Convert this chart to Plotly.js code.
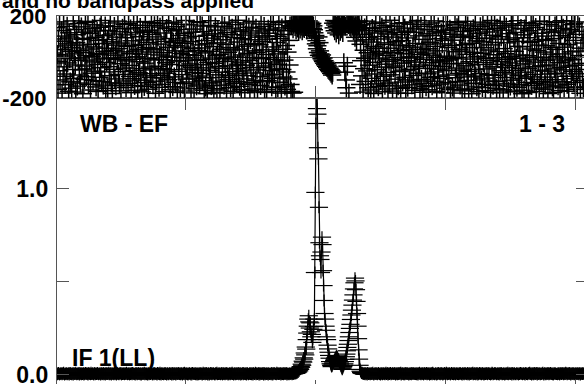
<!DOCTYPE html>
<html><head><meta charset="utf-8">
<script src="https://cdn.plot.ly/plotly-3.0.1.min.js"></script>
<style>
html,body{margin:0;padding:0;width:584px;height:384px;overflow:hidden;background:#fff}
#plot{position:absolute;left:0;top:-20px;width:600px;height:420px}
</style></head><body><div id="plot"></div>
<script>
// ---- text ----
const titleText = 'and no bandpass applied';
const baselineLabel = 'WB - EF';
const rangeLabel = '1 - 3';
const ifLabel = 'IF 1(LL)';
// ---- ticks ----
const channelTickVals = [256, 512, 768, 1024];
const ampTickVals = [0, 0.5, 1.0];
const ampTickText = ['0.0', '', '1.0'];
const phaseTickVals = [-200, 0, 200];
const phaseTickText = ['-200', '', '200'];

// ---- phase (degrees), channel 1..1040 ----
const phaseNoiseLeft = [
143,-67,12,-158,88,-21,171,-112,54,-3,129,-176,36,-94,161,-48,77,-135,5,102,
-83,150,-29,64,-167,118,-8,-121,93,27,-152,45,-61,176,-104,15,134,-39,-171,70,
109,-142,58,-17,163,-88,31,-127,-5,147,-63,86,-179,22,121,-110,-44,168,7,-96,
-58,91,174,-133,39,-15,115,-161,62,-79,3,138,-115,49,-24,157,-69,96,-146,18,
127,-36,-168,81,11,-99,145,-52,178,-119,66,-9,-137,104,28,-73,152,-164,43,-26,
85,-153,19,130,-47,-91,166,-6,-126,74,-178,112,33,-60,149,-107,9,-140,97,58,
-12,175,-85,41,-131,123,-33,-165,68,-2,140,-71,-117,25,159,-54,94,-149,-19,108,
52,-128,163,-41,16,-95,137,-174,79,-11,-106,57,171,-66,-139,29,118,-84,1,155,
-162,37,-77,99,-23,144,-113,61,-170,14,126,-57,83,-144,-30,173,-92,46,-125,120,
-7,-157,71,131,-49,-100,24,167,-81,110,-136,40,-14,153,-63,-177,87,-118,35,162,
98,-45,-148,10,146,-89,63,-13,-134,177,-56,21,117,-102,-169,76,-28,139,-79,4,
-111,165,47,-62,-160,90,-37,128,-1,-145,72,170,-97,30,-124,55,148,-18,-173,82,
134,-70,-20,105,-151,17,160,-86,48,-130,-4,114,-166,67,-42,178,-108,26,-59,93,
11,-122,157,-34,75,-175,121,-50,-103,42,136,-155,8,-76,101,-16,-141,172,-64,32,
-93,59,-132,168,-11,-80,44,151,-116,-38,124,-163,80,20,-147,-53,106,-179,65,-27,
154,-101,28,-65,177,-140,92,-10,-126,51,-172,113,-31,147,-87,6,-154,69,131,-46,
-74,13,-161,100,38,-118,164,-55,84,-6,-137,150,-22,-99,62,-176,119,-43,23,-110,
170,-90,46,-150,109,-14,141,-72,-167,34,95,-128,0,158,-57,-120,73,-35,179,-82,
39,-143,125,-25,-159,89,-68,10,132,-107,53,-174,107,-40,166,-91,18,-133,61,145,
-17,-164,84,-51,117,-125,-2,174,-78,30,-156,66,-114,141,22,-63,-170,97,-31,127,
60,-96,-139,161,-8,76,-121,35,-52,149,-173,103,-44,12,-160,87,-115,136,-3,-88,
116,-29,173,-66,-146,49,-104,158,27,-84,-12,130,-169,71,-36,101,-150,15,167,-58,
-123,90,-20,-176,142,-61,38,-98,110,-15,-142,175,56,-73,-158,24,128,-107,81,-39,
152,-134];
const phaseLeftBlob = [
-168,152,171,-176,138,160,-172,176,
148,165,132,158,177,141,169,124,155,173,136,162,150,178,128,166,145,171,139,157,
174,149,163,131,168,154,142,176,160,135,170,147,158,126,164,140,152,133];
const phaseSlope = [
118,92,105,64,80,40,55,22,98,8,70,30,
15,4,-8,10,-15,-22,-5,-30,-18,-38,-26,-45,-33,-52,-40,-60,-48,-66,-55,-72,-62,-80,-68,-88,-75];
const phaseBlobOne = [
165,142,178,128,156,171,117,149,162,134,175,108,152,168,125,144,173,138,159,119,166];
const phaseColumn = [
-28,160,-74,151,-112,-150,168,-45,172,158,-176,166,149,177,139,162];
const phaseBlobTwo = [
171,150,163,128,157,145,96,152,160,78,148,168,133,155,176,141];
const phaseNoiseRight = [
-134,62,-18,157,-92,110,-171,33,-57,142,-7,-119,84,175,-68,21,-150,96,-40,128,
5,-161,73,-104,139,-26,51,-178,117,-83,14,164,-131,42,-62,100,-145,27,-9,170,
-116,88,-49,145,-170,19,-94,125,61,-138,-35,154,-75,8,112,-156,69,-21,-127,179,
43,-87,132,-13,-166,97,-52,22,150,-108,-44,76,-176,119,-3,-141,58,163,-71,31,
-153,109,-30,80,-122,167,16,-64,141,-99,-177,55,-18,126,-148,93,-5,-112,37,160,
-60,1,-136,171,48,-90,120,-25,-163,66,-47,137,-117,24,178,-79,103,-39,-155,12,
149,-109,36,-172,86,-11,-129,158,63,-56,-145,19,113,-82,40,-160,133,-28,72,-99,
166,-41,-140,104,9,-73,176,-118,52,-15,123,-167,30,-95,147,-59,-1,-132,89,-24,
118,-174,64,-46,153,-105,-19,81,-152,129,-66,4,172,-125,47,-88,-14,136,-159,98,
-33,57,-147,111,-8,-176,82,160,-101,26,-54,143,-120,-2,168,-80,38,-137,107,-64,
29,-165,95,-31,124,-87,-156,60,174,-43,13,-114,152,-70,-158,101,46,-23,130,-97,
-179,67,-10,138,-128,23,-61,161,-93,79,-146,3,115,-37,-169,90,-81,148,18,-112,
74,-149,170,-27,45,-103,135,-164,-6,92,-58,156,-133,34,-86,122,-16,-172,59,178,
-48,106,-138,11,-89,165,-120,71,-36,-154,140,-4,87,-117,26,-175,153,-67,99,-22,
131,-76,-160,41,173,-100,17,-51,146,-131,69,-12,-166,114,-29,85,-142,2,162,-83,
-42,155,-113,93,-170,28,-65,120,-7,-148,76,177,-91,52,-135,10,-56,139,-104,-179,
50,-20,108,-162,137,-74,-34,167,-124,6,94,-55,-173,128,-14,71,-97,154,-139,39,
-85,162,-3,-128,77,-47,144,-168,32,-109,116,-25,58,-151,175,-64,-1,-119,85,-43,
102,-157,24,172,-69,-136,55,-16,134,-98,-178,81,-39,159,-126,14,-83,121,46,-146,
-10,-173,90,-58,151,-111,37,169,-79,3,-141,127,66,-28,-164,104,-50,177,-121,15,
140,-63,-150,48,-19,117,-94,176,-133,60,-5,-167,96,-44,133,25,-106,158,-71,-13,
81,-124,163,-40,-158,110,-82,29,-146,171,-61,7,147,-95,-177,43,-31,125,-115,68,
-149,94];

// ---- amplitude, channel 1..1040 ----
const ampNoiseLeft = [
0.006,0.009,0.004,0.007,0.011,0.005,0.003,0.008,0.006,0.010,0.007,0.004,0.009,0.005,0.012,0.006,0.003,0.008,0.007,0.005,
0.010,0.004,0.007,0.006,0.009,0.002,0.008,0.011,0.005,0.007,0.004,0.009,0.006,0.003,0.010,0.008,0.005,0.007,0.012,0.006,
0.004,0.008,0.005,0.009,0.007,0.003,0.011,0.006,0.008,0.004,0.010,0.005,0.007,0.009,0.002,0.006,0.008,0.011,0.005,0.007,
0.009,0.006,0.003,0.010,0.005,0.008,0.007,0.004,0.012,0.006,0.005,0.009,0.007,0.003,0.008,0.010,0.004,0.006,0.009,0.005,
0.007,0.011,0.005,0.004,0.008,0.006,0.010,0.003,0.007,0.009,0.005,0.008,0.004,0.011,0.006,0.007,0.003,0.009,0.005,0.010,
0.005,0.008,0.006,0.012,0.004,0.007,0.009,0.005,0.003,0.010,0.006,0.008,0.007,0.004,0.011,0.005,0.009,0.006,0.002,0.008,
0.010,0.005,0.007,0.004,0.009,0.006,0.008,0.011,0.003,0.007,0.005,0.010,0.006,0.008,0.004,0.009,0.007,0.005,0.012,0.006,
0.004,0.009,0.006,0.008,0.003,0.010,0.005,0.007,0.009,0.004,0.011,0.006,0.008,0.005,0.007,0.003,0.010,0.006,0.009,0.004,
0.008,0.005,0.011,0.006,0.007,0.004,0.009,0.003,0.006,0.010,0.005,0.008,0.007,0.012,0.004,0.006,0.009,0.005,0.008,0.003,
0.007,0.010,0.004,0.006,0.009,0.005,0.008,0.011,0.006,0.003,0.007,0.009,0.004,0.010,0.005,0.008,0.006,0.007,0.003,0.011,
0.005,0.007,0.009,0.004,0.012,0.006,0.003,0.008,0.010,0.005,0.007,0.004,0.009,0.006,0.011,0.005,0.008,0.003,0.007,0.009,
0.006,0.004,0.008,0.010,0.005,0.007,0.009,0.003,0.006,0.011,0.004,0.008,0.005,0.010,0.007,0.002,0.009,0.006,0.008,0.005,
0.011,0.006,0.005,0.009,0.004,0.008,0.007,0.010,0.003,0.006,0.009,0.005,0.012,0.004,0.007,0.008,0.006,0.010,0.005,0.003,
0.008,0.005,0.010,0.006,0.007,0.003,0.009,0.004,0.011,0.006,0.008,0.005,0.007,0.009,0.004,0.010,0.006,0.003,0.008,0.007,
0.004,0.009,0.007,0.005,0.010,0.006,0.008,0.003,0.007,0.012,0.005,0.006,0.009,0.004,0.008,0.011,0.005,0.007,0.003,0.010,
0.007,0.003,0.006,0.011,0.005,0.009,0.004,0.008,0.006,0.010,0.007,0.005,0.003,0.009,0.006,0.008,0.012,0.004,0.007,0.005,
0.009,0.006,0.008,0.004,0.007,0.010,0.005,0.003,0.011,0.006,0.008,0.007,0.004,0.009,0.005,0.010,0.006,0.008,0.003,0.007,
0.005,0.010,0.004,0.007,0.009,0.006,0.012,0.005,0.008,0.003,0.006,0.009,0.007,0.004,0.010,0.005,0.008,0.006,0.011,0.004,
0.008,0.006,0.009,0.003,0.007,0.005,0.010,0.008,0.004,0.011,0.006,0.007,0.005,0.009,0.003,0.008,0.010,0.006,0.004,0.007,
0.006,0.011,0.005,0.008,0.004,0.009,0.007,0.003,0.010,0.006,0.005,0.008,0.012,0.004,0.007,0.009,0.005,0.006,0.010,0.003,
0.009,0.004,0.007,0.010,0.006,0.005,0.008,0.011,0.003,0.007,0.009,0.004,0.006,0.010,0.005,0.008,0.007,0.003,0.009,0.006,
0.005,0.008,0.006,0.004,0.011,0.007,0.003,0.009,0.006,0.010,0.008,0.005,0.007,0.004,0.012,0.006,0.009,0.005,0.008,0.007,
0.007,0.010,0.003,0.006,0.009,0.005,0.008,0.004,0.011,0.007,0.006,0.009,0.005,0.010,0.003,0.008,0.006,0.007,0.004,0.009,
0.005,0.008,0.006,0.010,0.004,0.007,0.009,0.006,0.008,0.011];
const ampLines = [
0.008,0.011,0.009,0.014,0.012,0.018,0.016,0.025,0.022,0.034,
0.030,0.045,0.041,0.058,0.052,0.074,0.069,0.092,0.085,0.118,
0.108,0.150,0.139,0.190,0.225,0.262,0.300,0.318,0.285,0.252,
0.280,0.232,0.205,0.218,0.175,0.190,0.245,0.260,0.300,0.550,
0.980,1.350,1.780,1.430,1.400,1.220,1.160,0.900,0.710,0.640,
0.620,0.550,0.660,0.740,0.700,0.560,0.480,0.400,0.330,0.300,
0.262,0.240,0.205,0.190,0.160,0.140,0.122,0.105,0.090,0.072,
0.060,0.052,0.045,0.050,0.058,0.064,0.070,0.078,0.084,0.090,
0.094,0.099,0.103,0.097,0.090,0.086,0.078,0.072,0.065,0.058,
0.050,0.044,0.036,0.030,0.038,0.045,0.052,0.060,0.072,0.084,
0.098,0.112,0.130,0.148,0.165,0.185,0.205,0.228,0.250,0.272,
0.298,0.322,0.348,0.375,0.402,0.430,0.462,0.495,0.520,0.505,
0.458,0.395,0.330,0.262,0.195,0.135,0.085,0.052,0.030,0.020,
0.014,0.010,0.012,0.008,0.009];
const ampNoiseRight = [
0.007,0.005,0.009,0.004,0.010,0.006,0.008,0.003,0.011,0.007,0.005,0.009,0.006,0.004,0.008,0.010,0.005,0.007,0.012,0.006,
0.003,0.008,0.006,0.010,0.005,0.007,0.009,0.004,0.006,0.011,0.008,0.005,0.007,0.003,0.009,0.006,0.010,0.004,0.008,0.007,
0.009,0.006,0.004,0.008,0.012,0.005,0.007,0.010,0.003,0.006,0.009,0.005,0.008,0.011,0.004,0.007,0.006,0.010,0.005,0.008,
0.005,0.010,0.007,0.003,0.009,0.006,0.008,0.004,0.011,0.005,0.007,0.009,0.006,0.012,0.003,0.008,0.005,0.010,0.007,0.004,
0.008,0.004,0.011,0.006,0.007,0.009,0.005,0.010,0.006,0.003,0.008,0.007,0.005,0.009,0.004,0.011,0.006,0.008,0.010,0.005,
0.006,0.009,0.005,0.008,0.004,0.010,0.007,0.003,0.009,0.006,0.012,0.005,0.008,0.004,0.007,0.010,0.006,0.009,0.003,0.007,
0.010,0.006,0.008,0.005,0.011,0.004,0.007,0.009,0.006,0.008,0.003,0.010,0.005,0.007,0.009,0.004,0.012,0.006,0.008,0.005,
0.004,0.007,0.010,0.006,0.003,0.009,0.005,0.008,0.011,0.007,0.006,0.004,0.009,0.010,0.005,0.008,0.003,0.007,0.006,0.011,
0.007,0.005,0.008,0.012,0.006,0.004,0.010,0.007,0.005,0.009,0.008,0.003,0.006,0.011,0.007,0.005,0.009,0.004,0.010,0.006,
0.009,0.003,0.006,0.008,0.010,0.005,0.007,0.004,0.009,0.006,0.011,0.008,0.005,0.007,0.003,0.010,0.006,0.008,0.004,0.009,
0.006,0.010,0.005,0.007,0.004,0.011,0.008,0.006,0.003,0.009,0.007,0.005,0.010,0.006,0.008,0.012,0.004,0.007,0.009,0.005,
0.008,0.004,0.009,0.006,0.010,0.003,0.007,0.005,0.011,0.008,0.006,0.009,0.004,0.007,0.010,0.005,0.008,0.003,0.006,0.009,
0.005,0.008,0.007,0.011,0.004,0.006,0.009,0.010,0.005,0.007,0.003,0.008,0.006,0.012,0.009,0.004,0.007,0.005,0.010,0.006,
0.010,0.006,0.004,0.008,0.007,0.009,0.005,0.003,0.010,0.006,0.008,0.011,0.007,0.004,0.006,0.009,0.005,0.008,0.003,0.007,
0.007,0.009,0.006,0.005,0.012,0.004,0.008,0.006,0.010,0.007,0.005,0.009,0.003,0.008,0.011,0.006,0.004,0.010,0.007,0.005,
0.004,0.008,0.010,0.007,0.006,0.003,0.009,0.005,0.008,0.011,0.006,0.007,0.010,0.004,0.005,0.009,0.008,0.006,0.003,0.010,
0.009,0.005,0.007,0.004,0.008,0.010,0.006,0.012,0.005,0.007,0.009,0.003,0.006,0.008,0.010,0.004,0.007,0.011,0.005,0.008,
0.006,0.011,0.003,0.009,0.005,0.007,0.010,0.006,0.004,0.008,0.007,0.005,0.009,0.012,0.006,0.003,0.008,0.010,0.007,0.004,
0.008,0.006,0.009,0.005,0.010,0.004,0.007,0.008,0.011,0.005,0.006,0.009,0.004,0.007,0.003,0.010,0.008,0.006,0.009,0.005,
0.005,0.007,0.004,0.010,0.006,0.009,0.003,0.008,0.007,0.011,0.005,0.006,0.010,0.008,0.004,0.009,0.007,0.005,0.012,0.006,
0.010,0.004,0.008,0.006,0.009,0.005,0.011,0.007,0.003,0.008,0.006,0.010,0.005,0.009,0.007,0.004,0.008,0.006,0.010,0.007,
0.006,0.009,0.005,0.008,0.004,0.010,0.007,0.003,0.009,0.006,0.008,0.005,0.011,0.007,0.006];

const phase = [].concat(phaseNoiseLeft, phaseLeftBlob, phaseSlope, phaseBlobOne, phaseColumn, phaseBlobTwo, phaseNoiseRight);
const amp = [].concat(ampNoiseLeft, ampLines, ampNoiseRight);
const phaseChannels = phase.map((v, i) => i + 1);
const ampChannels = amp.map((v, i) => i + 1);

const ink = '#000000';
const axisGrey = '#555555';
const fontFamily = 'Liberation Sans, Arial, Helvetica, sans-serif';

const traces = [
  {
    x: phaseChannels, y: phase, xaxis: 'x2', yaxis: 'y2', type: 'scatter', mode: 'markers',
    marker: {symbol: 'line-ew', size: 13, color: ink, line: {color: ink, width: 1.5}},
    error_y: {type: 'constant', value: 46, width: 0, thickness: 1.5, color: ink},
    hoverinfo: 'skip'
  },
  {
    x: ampChannels, y: amp, xaxis: 'x', yaxis: 'y', type: 'scatter', mode: 'lines+markers',
    line: {color: ink, width: 1.2},
    marker: {symbol: 'line-ew', size: 13, color: ink, line: {color: ink, width: 1.2}},
    error_y: {type: 'constant', value: 0.032, width: 0, thickness: 1.2, color: ink},
    hoverinfo: 'skip'
  }
];

const xCommon = {
  range: [2, 1048], tickvals: channelTickVals, ticks: 'inside', ticklen: 12, tickwidth: 1,
  tickcolor: axisGrey, showticklabels: false, showline: true, linecolor: axisGrey, linewidth: 1.2,
  mirror: 'ticks', showgrid: false, zeroline: false
};
const split = 0.78191;
const layout = {
  width: 600, height: 420,
  margin: {l: 57, r: 12, t: 36, b: 8, pad: 0},
  paper_bgcolor: '#ffffff', plot_bgcolor: '#ffffff', showlegend: false,
  xaxis: Object.assign({}, xCommon, {anchor: 'y', domain: [0, 1]}),
  xaxis2: Object.assign({}, xCommon, {anchor: 'y2', domain: [0, 1], matches: 'x'}),
  yaxis: {
    domain: [0, split], range: [-0.0913, 1.4868], tickvals: ampTickVals, ticktext: ampTickText,
    ticks: 'inside', ticklen: 12, tickwidth: 1, tickcolor: axisGrey, showline: true, linecolor: axisGrey,
    linewidth: 1.2, mirror: 'ticks', showgrid: false, zeroline: false, ticklabelstandoff: 3,
    tickfont: {family: fontFamily, size: 23, color: ink, weight: 'bold'}
  },
  yaxis2: {
    domain: [split, 1], range: [-200, 200], tickvals: phaseTickVals, ticktext: phaseTickText,
    ticks: 'inside', ticklen: 12, tickwidth: 1, tickcolor: axisGrey, showline: true, linecolor: axisGrey,
    linewidth: 1.2, mirror: 'ticks', showgrid: false, zeroline: true, zerolinecolor: axisGrey, zerolinewidth: 1,
    ticklabelstandoff: 5,
    tickfont: {family: fontFamily, size: 22, color: ink, weight: 'bold'}
  },
  annotations: [
    {text: titleText, xref: 'paper', yref: 'paper', x: -0.1073, y: 1.0412, xanchor: 'left', yanchor: 'middle',
     showarrow: false, font: {family: fontFamily, size: 21, color: ink, weight: 'bold'}},
    {text: baselineLabel, xref: 'paper', yref: 'paper', x: 0.0395, y: 0.7128, xanchor: 'left', yanchor: 'middle',
     showarrow: false, font: {family: fontFamily, size: 23, color: ink, weight: 'bold'}},
    {text: rangeLabel, xref: 'paper', yref: 'paper', x: 0.9605, y: 0.7128, xanchor: 'right', yanchor: 'middle',
     showarrow: false, font: {family: fontFamily, size: 23, color: ink, weight: 'bold'}},
    {text: ifLabel, xref: 'paper', yref: 'paper', x: 0.0245, y: 0.0904, xanchor: 'left', yanchor: 'middle',
     showarrow: false, font: {family: fontFamily, size: 23, color: ink, weight: 'bold'}}
  ]
};

Plotly.newPlot('plot', traces, layout, {staticPlot: true, displayModeBar: false});
</script>
</body></html>
